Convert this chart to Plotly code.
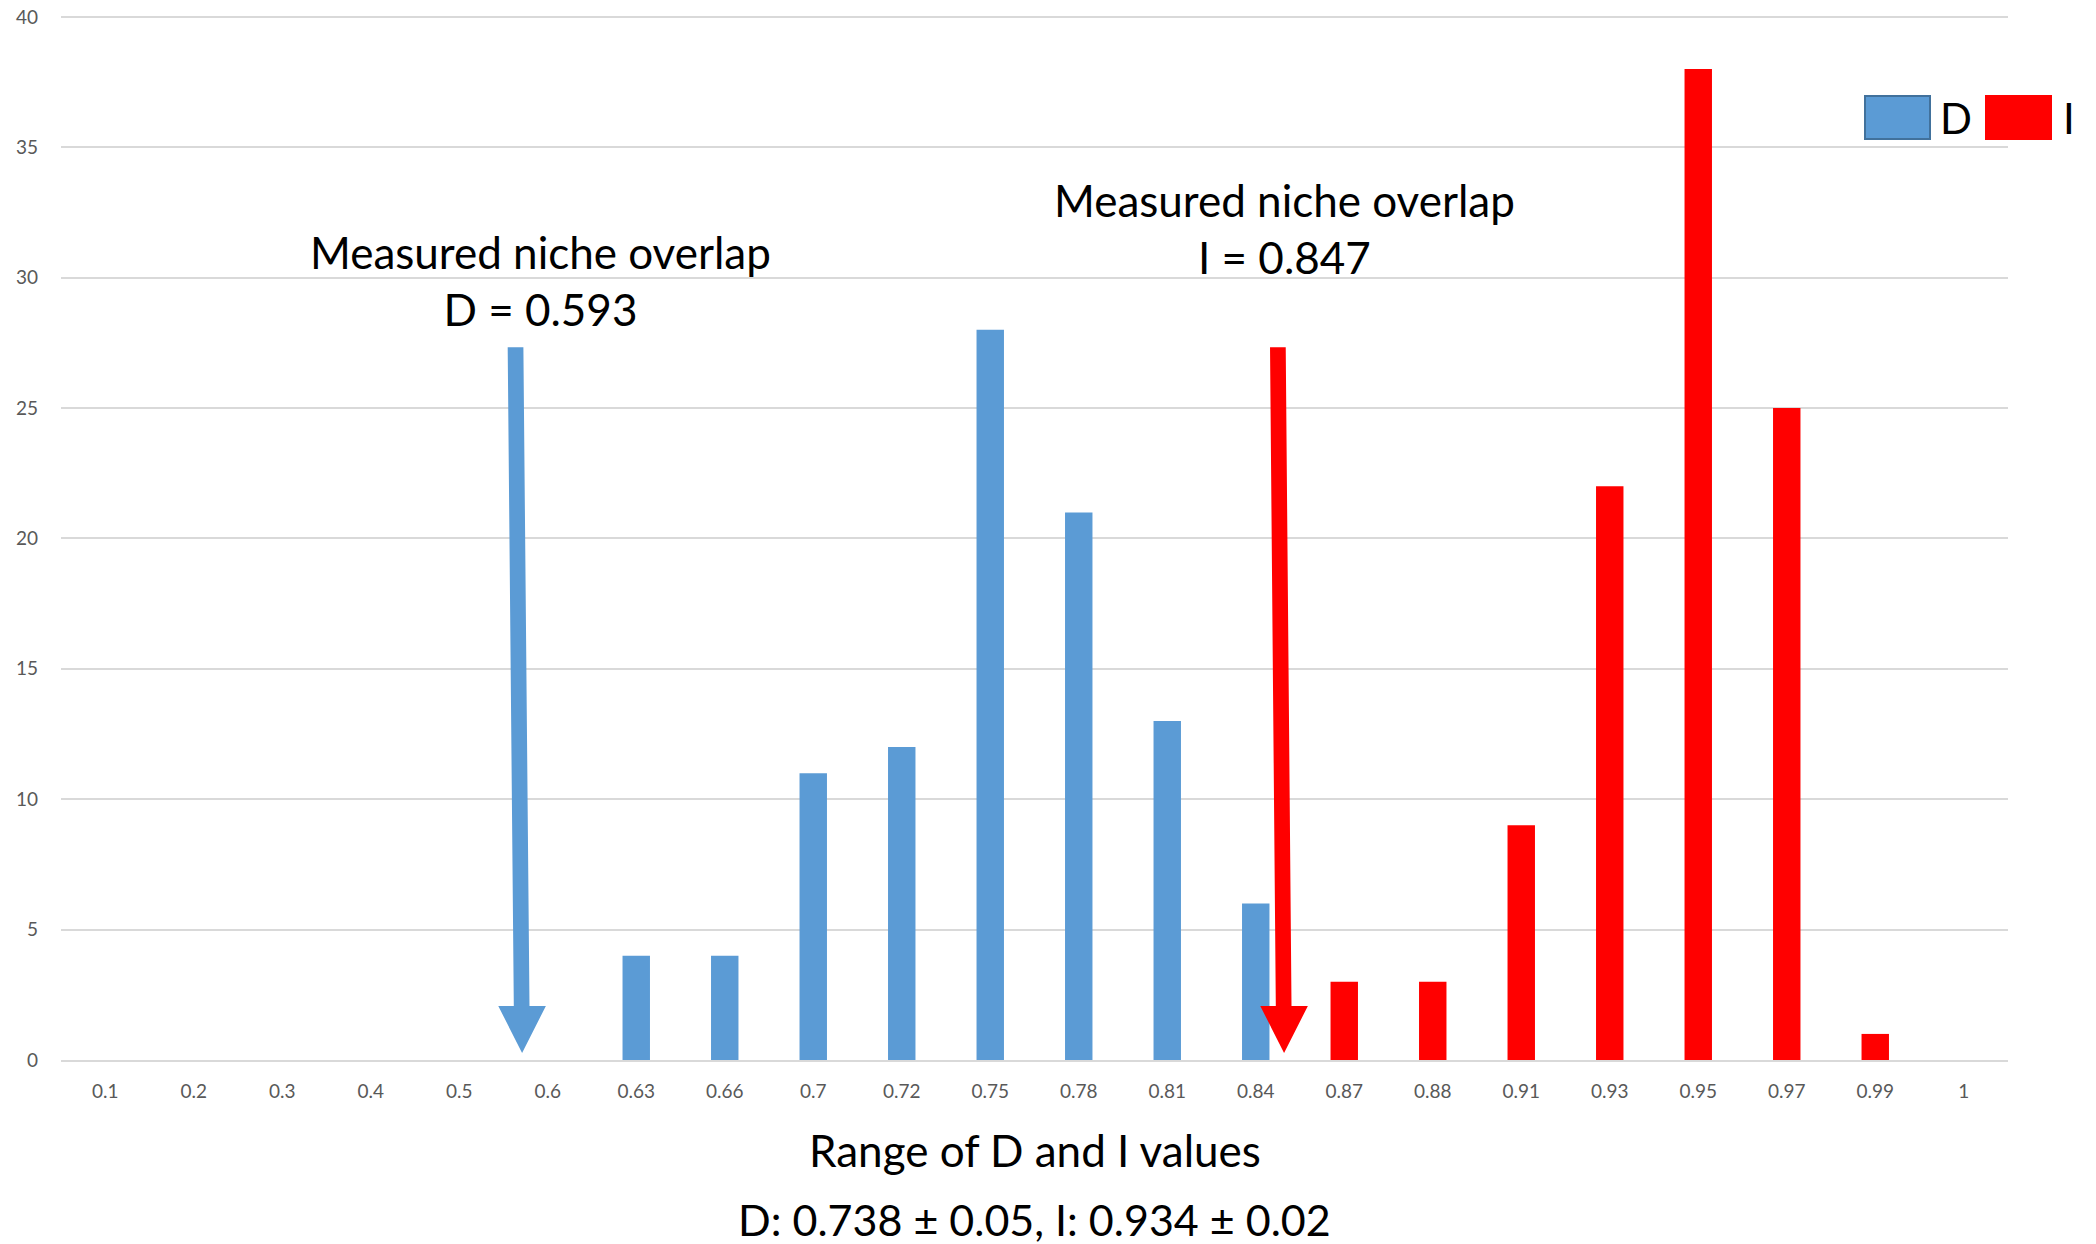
import plotly.graph_objects as go

# ---- data ----
categories = ["0.1", "0.2", "0.3", "0.4", "0.5", "0.6", "0.63", "0.66", "0.7", "0.72", "0.75",
              "0.78", "0.81", "0.84", "0.87", "0.88", "0.91", "0.93", "0.95", "0.97", "0.99", "1"]
d_categories = ["0.63", "0.66", "0.7", "0.72", "0.75", "0.78", "0.81", "0.84"]
d_values = [4, 4, 11, 12, 28, 21, 13, 6]
i_categories = ["0.87", "0.88", "0.91", "0.93", "0.95", "0.97", "0.99"]
i_values = [3, 3, 9, 22, 38, 25, 1]
y_ticks = [0, 5, 10, 15, 20, 25, 30, 35, 40]

BLUE = "#5B9BD5"
RED = "#FF0000"
FONT = "Lato"

OFF = 0  # page body margin removed via post_script
YMAX = 40.15
W, H = 2096 - OFF, 1244 - OFF
PLOT_LEFT, PLOT_RIGHT = 61 - OFF, 2008 - OFF
PLOT_BOTTOM = 1060 - OFF
PX_PER_UNIT = (1060 - 17) / 40
PLOT_TOP = PLOT_BOTTOM - YMAX * PX_PER_UNIT
ML, MT = PLOT_LEFT, PLOT_TOP
MR = W - PLOT_RIGHT
MB = H - PLOT_BOTTOM
PW = W - ML - MR
PH = H - MT - MB
NC = len(categories)


def idx_to_paper(i):
    return (i + 0.5) / NC


def px_to_paper_x(px):
    return (px - OFF - ML) / PW


def px_to_paper_y(py):
    return (PLOT_BOTTOM - (py - OFF)) / PH


fig = go.Figure()
fig.add_trace(go.Bar(x=d_categories, y=d_values, name="D", marker_color=BLUE,
                     marker_line_width=0, width=0.31))
fig.add_trace(go.Bar(x=i_categories, y=i_values, name="I", marker_color=RED,
                     marker_line_width=0, width=0.31))

units_per_px = 1 / PX_PER_UNIT


def arrow_path(i_top, i_tip, y_top, y_tip, shaft_px=15.7, head_half_px=23.8, head_len_px=47):
    xt = idx_to_paper(i_top)
    xb = idx_to_paper(i_tip)
    sw = shaft_px / 2 / PW
    hw = head_half_px / PW
    y_base = y_tip + head_len_px * units_per_px
    frac = (y_top - y_base) / (y_top - y_tip)
    xs = xt + (xb - xt) * frac
    return (f"M {xt - sw},{y_top} L {xt + sw},{y_top} L {xs + sw},{y_base} L {xb + hw},{y_base} "
            f"L {xb},{y_tip} L {xb - hw},{y_base} L {xs - sw},{y_base} Z")


shapes = [
    dict(type="path", xref="paper", yref="y", path=arrow_path(4.636, 4.71, 27.33, 0.27),
         fillcolor=BLUE, line=dict(width=0), layer="above"),
    dict(type="path", xref="paper", yref="y", path=arrow_path(13.25, 13.32, 27.33, 0.27),
         fillcolor=RED, line=dict(width=0), layer="above"),
    # legend boxes
    dict(type="rect", xref="paper", yref="paper",
         x0=px_to_paper_x(1865), x1=px_to_paper_x(1930), y0=px_to_paper_y(139), y1=px_to_paper_y(96),
         fillcolor=BLUE, line=dict(color="#41719C", width=2)),
    dict(type="rect", xref="paper", yref="paper",
         x0=px_to_paper_x(1985), x1=px_to_paper_x(2052), y0=px_to_paper_y(140), y1=px_to_paper_y(95),
         fillcolor=RED, line=dict(width=0)),
]

TXT = 44
annotations = [
    dict(text="Measured niche overlap<br>D = 0.593", x=4.92, y=29.9, xref="x", yref="y",
         showarrow=False, font=dict(family=FONT, size=TXT, color="black"), align="center"),
    dict(text="Measured niche overlap<br>I = 0.847", x=13.32, y=31.9, xref="x", yref="y",
         showarrow=False, font=dict(family=FONT, size=TXT, color="black"), align="center"),
    dict(text="Range of D and I values", x=0.5, y=px_to_paper_y(1150), xref="paper", yref="paper",
         showarrow=False, font=dict(family=FONT, size=TXT, color="black"),
         xanchor="center", yanchor="middle"),
    dict(text="D: 0.738 ± 0.05, I: 0.934 ± 0.02", x=0.5, y=px_to_paper_y(1219), xref="paper",
         yref="paper", showarrow=False, font=dict(family=FONT, size=43, color="black"),
         xanchor="center", yanchor="middle"),
    dict(text="D", x=px_to_paper_x(1956), y=px_to_paper_y(118), xref="paper", yref="paper",
         showarrow=False, font=dict(family=FONT, size=42, color="black"),
         xanchor="center", yanchor="middle"),
    dict(text="I", x=px_to_paper_x(2069), y=px_to_paper_y(118), xref="paper", yref="paper",
         showarrow=False, font=dict(family=FONT, size=42, color="black"),
         xanchor="center", yanchor="middle"),
]

fig.update_layout(
    width=W, height=H,
    margin=dict(l=ML, r=MR, t=MT, b=MB, autoexpand=False),
    paper_bgcolor="white", plot_bgcolor="white",
    barmode="overlay",
    showlegend=False,
    shapes=shapes,
    annotations=annotations,
    font=dict(family=FONT),
    xaxis=dict(type="category", categoryorder="array", categoryarray=categories,
               range=[-0.5, NC - 0.5], tickvals=categories, ticktext=categories,
               showgrid=False, showline=True, linecolor="#D9D9D9", linewidth=2,
               ticks="", ticklabelstandoff=13, automargin=False,
               tickfont=dict(family=FONT, size=19, color="#595959")),
    yaxis=dict(range=[0, YMAX], tickvals=y_ticks, showgrid=True, gridcolor="#D9D9D9", gridwidth=1.5,
               zeroline=False, showline=False, ticks="", ticklabelstandoff=22, automargin=False,
               tickfont=dict(family=FONT, size=19, color="#595959")),
)

fig.write_html("out.html", config={"displayModeBar": False},
               post_script="document.body.style.margin='0px';document.body.style.overflow='hidden';")
